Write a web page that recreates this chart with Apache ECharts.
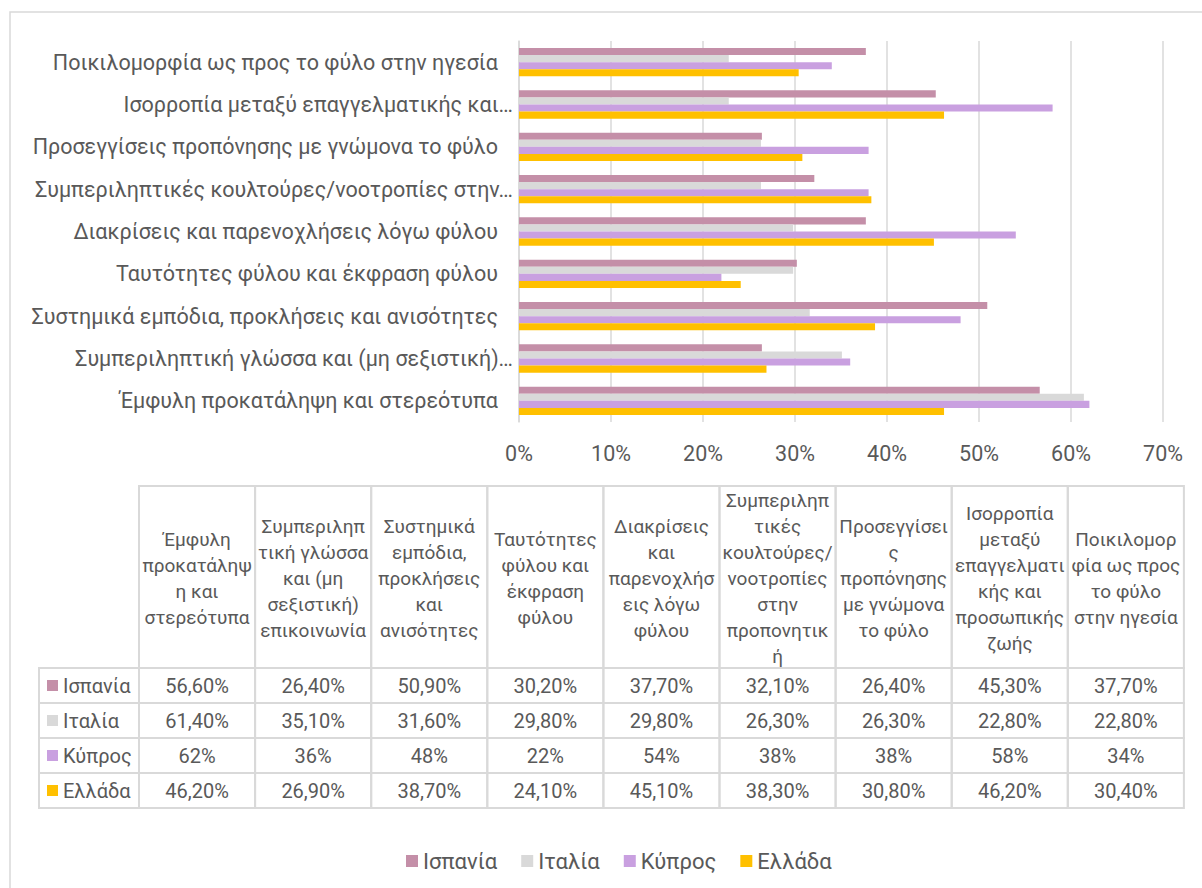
<!DOCTYPE html>
<html>
<head>
<meta charset="utf-8">
<script src="https://cdn.jsdelivr.net/npm/echarts@6/dist/echarts.min.js"></script>
<style>
  html, body { margin: 0; padding: 0; background: #ffffff; }
  #chart { width: 1202px; height: 888px; }
</style>
</head>
<body>
<div id="chart"></div>
<script>
// Κατηγορίες (σειρά του πίνακα, από κάτω προς τα πάνω στο γράφημα)
const categories = [
  "Έμφυλη προκατάληψη και στερεότυπα",
  "Συμπεριληπτική γλώσσα και (μη σεξιστική) επικοινωνία",
  "Συστημικά εμπόδια, προκλήσεις και ανισότητες",
  "Ταυτότητες φύλου και έκφραση φύλου",
  "Διακρίσεις και παρενοχλήσεις λόγω φύλου",
  "Συμπεριληπτικές κουλτούρες/νοοτροπίες στην προπονητική",
  "Προσεγγίσεις προπόνησης με γνώμονα το φύλο",
  "Ισορροπία μεταξύ επαγγελματικής και προσωπικής ζωής",
  "Ποικιλομορφία ως προς το φύλο στην ηγεσία",
];

// Ετικέτες άξονα όπως εμφανίζονται (κομμένες)
const axisLabels = [
  "Έμφυλη προκατάληψη και στερεότυπα",
  "Συμπεριληπτική γλώσσα και (μη σεξιστική)…",
  "Συστημικά εμπόδια, προκλήσεις και ανισότητες",
  "Ταυτότητες φύλου και έκφραση φύλου",
  "Διακρίσεις και παρενοχλήσεις λόγω φύλου",
  "Συμπεριληπτικές κουλτούρες/νοοτροπίες στην…",
  "Προσεγγίσεις προπόνησης με γνώμονα το φύλο",
  "Ισορροπία μεταξύ επαγγελματικής και…",
  "Ποικιλομορφία ως προς το φύλο στην ηγεσία",
];

// Επικεφαλίδες πίνακα (με τις αλλαγές γραμμής της εικόνας)
const tableHeaders = [
  "Έμφυλη\nπροκατάληψ\nη και\nστερεότυπα",
  "Συμπεριληπ\nτική γλώσσα\nκαι (μη\nσεξιστική)\nεπικοινωνία",
  "Συστημικά\nεμπόδια,\nπροκλήσεις\nκαι\nανισότητες",
  "Ταυτότητες\nφύλου και\nέκφραση\nφύλου",
  "Διακρίσεις\nκαι\nπαρενοχλήσ\nεις λόγω\nφύλου",
  "Συμπεριληπ\nτικές\nκουλτούρες/\nνοοτροπίες\nστην\nπροπονητικ\nή",
  "Προσεγγίσει\nς\nπροπόνησης\nμε γνώμονα\nτο φύλο",
  "Ισορροπία\nμεταξύ\nεπαγγελματι\nκής και\nπροσωπικής\nζωής",
  "Ποικιλομορ\nφία ως προς\nτο φύλο\nστην ηγεσία",
];

const seriesNames = ["Ισπανία", "Ιταλία", "Κύπρος", "Ελλάδα"];
const spain = [56.6, 26.4, 50.9, 30.2, 37.7, 32.1, 26.4, 45.3, 37.7];
const italy = [61.4, 35.1, 31.6, 29.8, 29.8, 26.3, 26.3, 22.8, 22.8];
const cyprus = [62, 36, 48, 22, 54, 38, 38, 58, 34];
const greece = [46.2, 26.9, 38.7, 24.1, 45.1, 38.3, 30.8, 46.2, 30.4];
const seriesDecimals = [2, 2, 0, 2];

const COLORS = ["#C48FA8", "#D9D9D9", "#C9A0E0", "#FFC000"];
const TEXT = "#595959";
const LINE = "#D9D9D9";
const FONT = "Roboto, 'Liberation Sans', sans-serif";

const seriesData = [spain, italy, cyprus, greece];

function formatPct(value, decimals) {
  return value.toFixed(decimals).replace(".", ",") + "%";
}

// Πίνακας δεδομένων κάτω από το γράφημα
function buildTable() {
  const elements = [];
  const colX0 = 139;
  const colW = 116.1;
  const labelX0 = 39;
  const headTop = 486;
  const headH = 182;
  const rowH = 35;
  const cell = (x, y, w, h) => ({
    type: "rect",
    shape: { x, y, width: w, height: h },
    style: { fill: "none", stroke: LINE, lineWidth: 2 },
  });
  const text = (x, y, str, extra) => ({
    type: "text",
    x,
    y,
    style: Object.assign(
      { text: str, fill: TEXT, font: "19.5px " + FONT, align: "center", verticalAlign: "middle" },
      extra || {}
    ),
  });

  tableHeaders.forEach((h, j) => {
    const x = colX0 + j * colW;
    elements.push(cell(x, headTop, colW, headH));
    elements.push(text(x + colW / 2, headTop + headH / 2 + 1, h, { lineHeight: 26, font: "19px " + FONT }));
  });

  seriesNames.forEach((name, i) => {
    const y = headTop + headH + i * rowH;
    elements.push(cell(labelX0, y, colX0 - labelX0, rowH));
    elements.push({
      type: "rect",
      shape: { x: 47, y: y + rowH / 2 - 5.5, width: 11, height: 11 },
      style: { fill: COLORS[i] },
    });
    elements.push(text(63, y + rowH / 2, name, { align: "left", font: "20px " + FONT }));
    seriesData[i].forEach((v, j) => {
      const x = colX0 + j * colW;
      elements.push(cell(x, y, colW, rowH));
      elements.push(text(x + colW / 2, y + rowH / 2, formatPct(v, seriesDecimals[i]), { font: "20px " + FONT }));
    });
  });

  // Περίγραμμα περιοχής γραφήματος
  elements.push({
    type: "rect",
    shape: { x: 10, y: 12, width: 1200, height: 900 },
    style: { fill: "none", stroke: LINE, lineWidth: 1.5 },
  });
  return elements;
}

const chart = echarts.init(document.getElementById("chart"), null, { renderer: "svg" });

chart.setOption({
  animation: false,
  textStyle: { fontFamily: FONT },
  grid: { left: 519, right: 39, top: 41, bottom: 466 },
  legend: {
    data: seriesNames,
    top: 845,
    left: 401,
    icon: "rect",
    itemWidth: 12,
    itemHeight: 12,
    itemGap: 24,
    textStyle: { color: TEXT, fontSize: 22, fontFamily: FONT },
  },
  xAxis: {
    type: "value",
    min: 0,
    max: 70,
    interval: 10,
    axisLine: { show: false },
    axisTick: { show: false },
    axisLabel: { formatter: "{value}%", color: TEXT, fontSize: 21.5, margin: 20 },
    splitLine: { lineStyle: { color: LINE, width: 1.5 } },
  },
  yAxis: {
    type: "category",
    data: categories,
    axisTick: { show: false },
    axisLine: { lineStyle: { color: LINE, width: 1.5 } },
    axisLabel: {
      color: TEXT,
      fontSize: 21.5,
      margin: 21,
      // οι κομμένες ετικέτες ξεχειλίζουν λίγο προς τα δεξιά, όπως στο Excel
      formatter: (value, index) =>
        axisLabels[index].endsWith("…") ? "{cut|" + axisLabels[index] + "}" : axisLabels[index],
      rich: {
        cut: { fontSize: 21.5, color: TEXT, padding: [0, -15, 0, 0] },
      },
    },
  },
  series: seriesNames.map((name, i) => ({
    name,
    type: "bar",
    data: seriesData[i],
    barGap: "0%",
    barCategoryGap: "33%",
    itemStyle: { color: COLORS[i] },
  })),
  graphic: buildTable(),
});
</script>
</body>
</html>
